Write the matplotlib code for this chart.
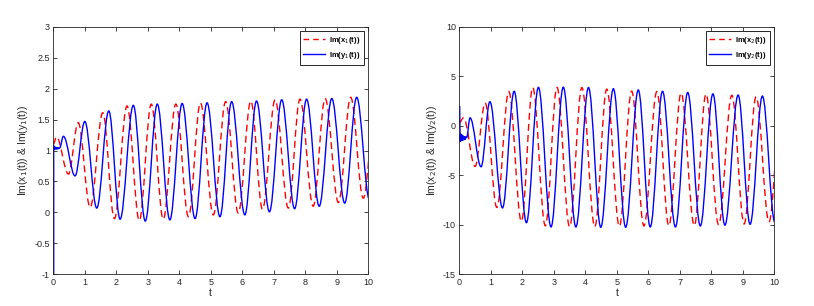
import numpy as np
import matplotlib
matplotlib.use('Agg')
import matplotlib.pyplot as plt
from matplotlib.path import Path
from matplotlib.patches import PathPatch
from matplotlib.ticker import FuncFormatter

plt.rcParams['font.family'] = ['Liberation Sans', 'DejaVu Sans']
plt.rcParams['axes.unicode_minus'] = False

# extrema (t, value); last one sits just past t=10
# left panel: x1 (red dashed), y1 (blue solid)
x1_t = [0.0, 0.10, 0.48, 0.79, 1.17, 1.57, 1.94, 2.34, 2.73, 3.11, 3.49, 3.89,
        4.29, 4.67, 5.08, 5.47, 5.87, 6.27, 6.64, 7.04, 7.46, 7.83, 8.25, 8.63,
        9.05, 9.44, 9.84, 10.24]
x1_v = [1.1, 1.22, 0.62, 1.45, 0.08, 1.61, -0.10, 1.72, -0.13, 1.75, -0.11, 1.75,
        -0.07, 1.77, -0.04, 1.79, -0.01, 1.80, 0.05, 1.82, 0.07, 1.83, 0.10, 1.84,
        0.16, 1.86, 0.23, 1.87]
y1_start_t = [0.012, 0.012, 0.02, 0.035, 0.05, 0.07, 0.09, 0.11, 0.13, 0.15, 0.17]
y1_start_v = [-1.0, 1.08, 1.01, 1.06, 1.02, 1.06, 1.02, 1.05, 1.02, 1.05, 1.03]
y1_t = [0.2, 0.32, 0.69, 1.0, 1.38, 1.76, 2.12, 2.54, 2.92, 3.30, 3.70, 4.09,
        4.50, 4.88, 5.29, 5.66, 6.08, 6.45, 6.86, 7.25, 7.66, 8.04, 8.44, 8.84,
        9.25, 9.63, 10.04]
y1_v = [1.04, 1.23, 0.59, 1.47, 0.07, 1.64, -0.11, 1.73, -0.14, 1.75, -0.12, 1.76,
        -0.10, 1.77, -0.07, 1.79, -0.04, 1.80, 0.01, 1.82, 0.06, 1.83, 0.10, 1.84,
        0.15, 1.86, 0.20]

# right panel: x2 (red dashed), y2 (blue solid)
x2_t = [0.0, 0.13, 0.50, 0.82, 1.19, 1.57, 1.97, 2.33, 2.73, 3.10, 3.50, 3.89,
        4.30, 4.68, 5.08, 5.47, 5.86, 6.27, 6.65, 7.04, 7.46, 7.83, 8.23, 8.65,
        9.04, 9.42, 9.83, 10.23]
x2_v = [0.3, 0.8, -4.1, 2.3, -8.25, 3.45, -9.65, 3.87, -10.1, 3.88, -10.2, 3.86,
        -10.2, 3.7, -10.15, 3.5, -10.12, 3.45, -10.1, 3.3, -10.08, 3.2, -10.0, 3.08,
        -9.92, 2.93, -9.7, 2.85]
y2_start_t = [0.01, 0.025, 0.04, 0.06, 0.08, 0.10, 0.12, 0.14, 0.16, 0.18, 0.20]
y2_start_v = [2.0, -1.6, -0.8, -1.55, -0.9, -1.5, -1.0, -1.45, -1.05, -1.4, -1.1]
y2_t = [0.23, 0.34, 0.69, 0.97, 1.37, 1.74, 2.13, 2.51, 2.91, 3.30, 3.70, 4.10,
        4.49, 4.89, 5.28, 5.68, 6.06, 6.45, 6.86, 7.25, 7.65, 8.05, 8.43, 8.85,
        9.23, 9.62, 10.02]
y2_v = [-1.2, 0.8, -4.14, 2.43, -8.3, 3.48, -9.79, 3.88, -10.22, 3.9, -10.22, 3.86,
        -10.25, 3.74, -10.25, 3.62, -10.22, 3.48, -10.22, 3.36, -10.12, 3.22, -10.04, 3.1,
        -9.95, 3.0, -9.8]


def wave_path(ts, vs, pre_t=(), pre_v=(), a=0.364):
    # straight pieces for the start-up spike, then cubic halves between extrema
    verts, codes = [], []
    for t, v in zip(pre_t, pre_v):
        verts.append((t, v))
        codes.append(Path.LINETO if codes else Path.MOVETO)
    verts.append((ts[0], vs[0]))
    codes.append(Path.LINETO if codes else Path.MOVETO)
    for i in range(len(ts) - 1):
        d = ts[i + 1] - ts[i]
        verts += [(ts[i] + a * d, vs[i]), (ts[i + 1] - a * d, vs[i + 1]), (ts[i + 1], vs[i + 1])]
        codes += [Path.CURVE4] * 3
    return Path(verts, codes)


fig = plt.figure(figsize=(8.14, 3.06), dpi=100)
ax1 = fig.add_axes([0.0655, 0.1036, 0.387, 0.809])
ax2 = fig.add_axes([0.5643, 0.1036, 0.387, 0.809])

panels = [
    (ax1, x1_t, x1_v, y1_t, y1_v, y1_start_t, y1_start_v, '1', (-1, 3), np.arange(-1, 3.01, 0.5)),
    (ax2, x2_t, x2_v, y2_t, y2_v, y2_start_t, y2_start_v, '2', (-15, 10), np.arange(-15, 10.1, 5)),
]

for ax, xt, xv, yt, yv, st, sv, k, ylim, yticks in panels:
    red = PathPatch(wave_path(xt, xv), facecolor='none', edgecolor='#ff0000', lw=1.0,
                    linestyle=(0, (5, 3)))
    blue = PathPatch(wave_path(yt, yv, st, sv), facecolor='none', edgecolor='#0000ff', lw=1.0)
    ax.add_patch(red)
    ax.add_patch(blue)
    # legend proxies
    ax.plot([], [], color='#ff0000', lw=1.0, linestyle=(0, (4, 3)), label=r'Im(x$_%s$(t))' % k)
    ax.plot([], [], color='#0000ff', lw=1.0, label=r'Im(y$_%s$(t))' % k)

    ax.set_xlim(0, 10)
    ax.set_ylim(*ylim)
    ax.set_xticks(np.arange(0, 11, 1))
    ax.set_yticks(yticks)
    ax.yaxis.set_major_formatter(FuncFormatter(lambda v, p: '%g' % v))
    ax.tick_params(direction='in', top=True, right=True, labelsize=6.5, length=3,
                   width=0.6, color='#262626', labelcolor='#262626', pad=2.5)
    for s in ax.spines.values():
        s.set_linewidth(0.6)
        s.set_color('#262626')
    ax.set_xlabel('t', fontsize=7.5, labelpad=1, color='#262626')
    ax.set_ylabel(r'Im(x$_%s$(t)) & Im(y$_%s$(t))' % (k, k), fontsize=7.5, labelpad=3,
                  color='#262626')
    leg = ax.legend(loc='upper right', fontsize=5.5, handlelength=2.8, framealpha=1,
                    fancybox=False, edgecolor='#262626', borderpad=0.5,
                    labelspacing=0.5, handletextpad=0.5, borderaxespad=0.6)
    leg.get_frame().set_linewidth(0.7)
    for txt in leg.get_texts():
        txt.set_fontweight('bold')

fig.savefig('out.png', dpi=100)
